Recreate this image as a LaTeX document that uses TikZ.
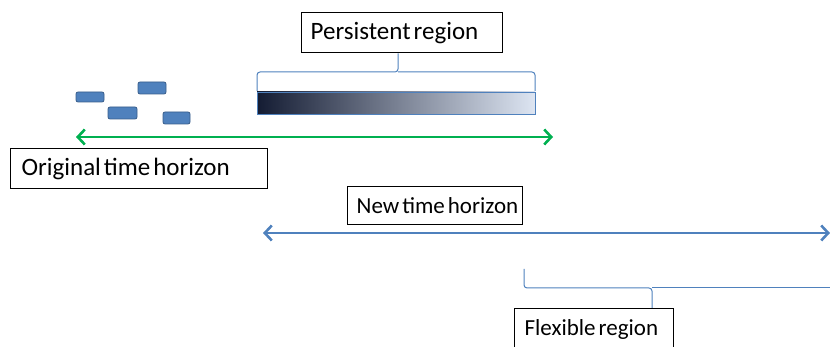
\documentclass[tikz,border=0pt]{standalone}
\usepackage{fontspec}
\setmainfont{Carlito}
\usetikzlibrary{arrows.meta}
\definecolor{accblue}{HTML}{4F81BD}
\definecolor{accbluedark}{HTML}{385D8A}
\definecolor{accgreen}{HTML}{00B050}
\definecolor{navy}{HTML}{141C33}
\definecolor{paleblue}{HTML}{DDE5F2}
\newcommand\lblfont{\fontsize{23}{25}\selectfont}
\newcommand\lblfontbig{\fontsize{25}{27}\selectfont}
\newcommand\wsp{\hspace{3pt}}
\tikzset{
  labelbox/.style={draw=black, line width=1.3pt, inner ysep=0pt, inner xsep=9pt, align=left,
    font=\lblfont, anchor=north west},
  task/.style={fill=accblue, draw=accbluedark, line width=0.8pt, rounded corners=2pt},
  horizon/.style={line width=2.6pt, {Straight Barb[length=7pt,width=15pt]}-{Straight Barb[length=7pt,width=15pt]}},
  brace/.style={draw=accblue, line width=1pt, rounded corners=3pt}
}
\begin{document}
\begin{tikzpicture}[x=1pt,y=-1pt]
\useasboundingbox (0,0) rectangle (830,347);
\clip (0,0) rectangle (830,347);
% labels
\node[labelbox, font=\lblfontbig, text width=183pt, minimum height=40pt] (pers) at (301,12) {\mbox{Persistent\wsp region}};
\node[labelbox, font=\lblfontbig, text width=235pt, minimum height=40pt, inner xsep=11pt] (orig) at (10,148) {\mbox{Original\wsp time\wsp horizon}};
\node[labelbox, text width=157pt, minimum height=38pt] (newh) at (347,186) {\mbox{New\wsp time\wsp horizon}};
\node[labelbox, text width=139pt, minimum height=44pt, inner xsep=10pt] (flex) at (514,308) {\raisebox{6pt}{Flexible\wsp region}};
% persistent gradient bar
\shade[left color=navy, right color=paleblue, draw=accblue, line width=0.8pt] (257,92) rectangle (535,114);
\node[inner sep=0pt, minimum width=278pt, minimum height=22pt, anchor=north west] (bar) at (257,92) {};
% persistent brace
\coordinate (pb) at (398,72);
\draw[brace] (257,91) -- (257,72) -- (pb) -- (pers.south -| pb);
\draw[brace] (535,91) -- (535,72) -- (pb);
% tasks
\draw[task] (76,92) rectangle (104,102);
\draw[task] (138,82) rectangle (166,94);
\draw[task] (108,107) rectangle (137,119);
\draw[task] (163,112) rectangle (190,124);
% horizons
\coordinate (g1) at (76,137);
\coordinate (g2) at (553,137);
\draw[horizon, draw=accgreen] (g1) -- (g2);
\coordinate (b1) at (263,233);
\coordinate (b2) at (830,233);
\draw[horizon, draw=accblue] (b1) -- (b2);
% flexible brace
\coordinate (fb) at (652,288);
\draw[brace] (524,269) -- (524,288) -- (fb) -- (flex.north -| fb);
\draw[brace] (fb) -- (832,288);
\end{tikzpicture}
\end{document}
